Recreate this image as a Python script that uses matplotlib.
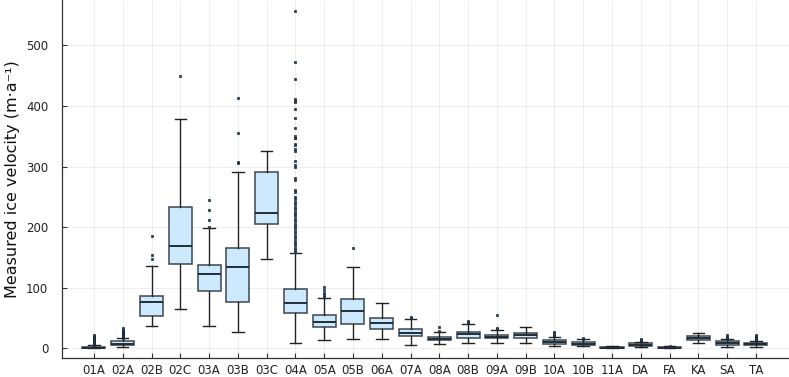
import matplotlib
matplotlib.use("Agg")
import matplotlib.pyplot as plt

categories = ["01A", "02A", "02B", "02C", "03A", "03B", "03C", "04A", "05A", "05B",
              "06A", "07A", "08A", "08B", "09A", "09B", "10A", "10B", "11A", "DA",
              "FA", "KA", "SA", "TA"]
whislo = [0.0, 2.0, 37.0, 65.0, 36.6, 26.7, 147.0, 8.6, 14.0, 15.7,
          15.0, 6.3, 7.4, 9.0, 9.6, 8.5, 3.6, 3.3, 0.0, 2.0,
          0.0, 8.6, 2.4, 2.4]
q1 = [0.3, 5.5, 53.6, 139.0, 95.4, 76.2, 206.0, 58.0, 35.5, 41.0,
      32.2, 20.6, 13.5, 17.8, 16.8, 17.8, 8.0, 5.3, 0.5, 4.7,
      0.4, 13.5, 6.3, 5.0]
med = [1.0, 8.0, 76.7, 169.0, 123.5, 134.0, 223.0, 75.6, 44.2, 62.0,
       42.6, 25.0, 15.7, 23.4, 19.5, 22.3, 11.2, 8.0, 1.2, 6.3,
       1.0, 17.3, 9.5, 7.3]
q3 = [2.0, 12.0, 87.0, 234.0, 137.0, 165.8, 291.8, 98.7, 55.3, 82.2,
      49.8, 31.6, 19.0, 27.7, 22.3, 26.0, 14.0, 10.7, 2.3, 8.5,
      1.8, 20.6, 11.8, 9.6]
whishi = [5.0, 17.0, 135.6, 378.7, 199.0, 291.8, 326.0, 158.0, 82.8, 134.0,
          75.6, 48.0, 26.7, 41.0, 30.0, 36.0, 18.5, 15.0, 4.0, 11.0,
          3.5, 26.0, 15.0, 11.8]
fliers = [
    [6, 7, 8, 9, 10, 11, 12, 13, 14, 15, 16, 17, 18, 19, 20, 22],
    [18, 19, 20, 21, 22, 23, 24, 25, 26, 27, 28, 29, 30, 31, 33],
    [148, 155, 186],
    [449],
    [201, 211.5, 228, 244.5],
    [305.6, 308, 356, 414],
    [],
    [557, 473, 444, 411, 409, 407, 395, 381, 364, 350, 348, 347, 337, 335, 329,
     326, 309, 303, 300, 282, 278, 262, 258, 250, 246, 242, 238, 234, 230, 226,
     222, 218, 214, 210, 206, 202, 198, 194, 190, 186, 182, 178, 174, 170, 166,
     162, 160],
    [85, 88, 92, 97, 101],
    [165.8],
    [],
    [50, 52],
    [29, 36],
    [43, 44.5, 46],
    [31.8, 33, 55.8],
    [],
    [20, 22, 25, 27.7],
    [16, 17],
    [],
    [12, 13, 14, 15.7],
    [4.5],
    [],
    [16, 17, 18, 19, 21.7],
    [13, 14, 15, 16, 17, 18, 20, 22],
]
yticks = [0, 100, 200, 300, 400, 500]
ylabel = "Measured ice velocity (m\u00b7a\u207b\u00b9)"

fig = plt.figure(figsize=(7.89, 3.77), dpi=100)
ax = fig.add_axes([0.0786, 0.0504, 0.9214, 0.9496])

stats = []
for i, c in enumerate(categories):
    stats.append(dict(label=c, whislo=whislo[i], q1=q1[i], med=med[i],
                      q3=q3[i], whishi=whishi[i], fliers=fliers[i]))

positions = list(range(len(categories)))
ax.bxp(stats, positions=positions, widths=0.8, patch_artist=True,
       boxprops=dict(facecolor="#cce9fd", edgecolor="#3c4650", linewidth=1.1),
       medianprops=dict(color="#1f2d38", linewidth=1.4),
       whiskerprops=dict(color="#222222", linewidth=1.0),
       capprops=dict(color="#222222", linewidth=1.0),
       capwidths=0.4,
       flierprops=dict(marker="s", markersize=2.0, markerfacecolor="#1f4a6a",
                       markeredgecolor="#1a2a38", markeredgewidth=0.5,
                       linestyle="none"))

ax.set_xlim(-1.11, 24.15)
ax.set_ylim(-15.7, 575)
ax.set_xticks(positions)
ax.set_xticklabels(categories, fontsize=8.5, color="#222222")
ax.set_yticks(yticks)
ax.set_yticklabels([str(t) for t in yticks], fontsize=8.5, color="#222222")
ax.set_ylabel(ylabel, fontsize=11.5, color="#111111", labelpad=4)

ax.grid(True, color="#000000", alpha=0.08, linewidth=0.6)
ax.set_axisbelow(True)
for s in ["top", "right"]:
    ax.spines[s].set_visible(False)
for s in ["left", "bottom"]:
    ax.spines[s].set_color("#333333")
    ax.spines[s].set_linewidth(0.9)
ax.tick_params(direction="in", length=3.5, width=0.8, color="#333333")
ax.tick_params(axis="x", pad=4)
ax.tick_params(axis="y", pad=10)

fig.savefig("out.png", dpi=100)
